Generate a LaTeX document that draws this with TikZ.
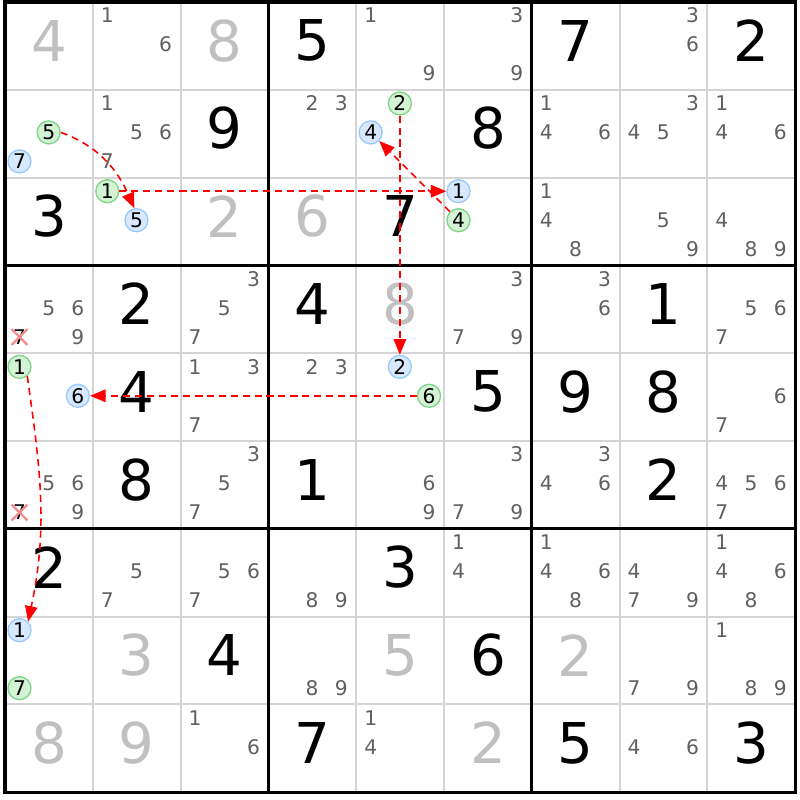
\documentclass[tikz,border=0pt]{standalone}
\usepackage{fontspec}
\setmainfont{DejaVu Sans}
\usetikzlibrary{arrows.meta}
\definecolor{candgray}{HTML}{606060}
\definecolor{solvedgray}{HTML}{C0C0C0}
\definecolor{gridgray}{HTML}{D4D4D4}
\definecolor{ongreen}{HTML}{7FD38A}
\definecolor{ongreenfill}{HTML}{D4F2D4}
\definecolor{offblue}{HTML}{99C8FF}
\definecolor{offbluefill}{HTML}{D8E9FF}
\definecolor{crosspink}{HTML}{F08C8C}
\definecolor{linkred}{HTML}{FF0000}
% small candidates of one cell: column, row, digits
\newcommand\cands[3]{%
  \foreach \d in {#3}{%
    \pgfmathsetmacro\cx{#1-1+0.165+0.3325*mod(\d-1,3)}
    \pgfmathsetmacro\cy{-(#2-1)-0.155-0.33*floor((\d-1)/3)}
    \node[cand] at (\cx,\cy) {\d};
  }}
% one marked candidate: style, name, column, row, digit
\newcommand\hl[5]{%
  \pgfmathsetmacro\cx{#3-1+0.165+0.3325*mod(#5-1,3)}
  \pgfmathsetmacro\cy{-(#4-1)-0.155-0.33*floor((#5-1)/3)}
  \node[#1] (#2) at (\cx,\cy) {#5};}
% eliminated candidate: column, row, digit
\newcommand\elim[3]{%
  \pgfmathsetmacro\cx{#1-1+0.165+0.3325*mod(#3-1,3)}
  \pgfmathsetmacro\cy{-(#2-1)-0.155-0.33*floor((#3-1)/3)}
  \node[cand, text=black] at (\cx,\cy) {#3};
  \draw[crossline] ({\cx-0.09},{\cy+0.09}) -- ({\cx+0.09},{\cy-0.09});
  \draw[crossline] ({\cx-0.09},{\cy-0.09}) -- ({\cx+0.09},{\cy+0.09});}

\begin{document}
\begin{tikzpicture}[x=1.756cm, y=1.756cm,
    given/.style={font=\fontsize{32}{32}\selectfont},
    solved/.style={given, text=solvedgray},
    cand/.style={font=\fontsize{11.5}{12}\selectfont, text=candgray, inner sep=0pt},
    oncand/.style={cand, text=black, circle, draw=ongreen, fill=ongreenfill, line width=0.75pt, minimum size=0.46cm},
    offcand/.style={oncand, draw=offblue, fill=offbluefill},
    crossline/.style={crosspink, line width=1.3pt},
    chain/.style={draw=linkred, line width=0.9pt, dash pattern=on 4pt off 2.8pt,
      -{Triangle[length=0.31cm, width=0.25cm, fill=linkred]}},
    thinline/.style={gridgray, line width=1.1pt},
    boxline/.style={black, line width=1.8pt}]
  \useasboundingbox (-0.057,0.023) rectangle (9.055,-9.089);
  % grid
  \foreach \i in {1,2,4,5,7,8}{
    \draw[thinline] (\i,0) -- (\i,-9);
    \draw[thinline] (0,-\i) -- (9,-\i);
  }
  \foreach \i in {3,6}{
    \draw[boxline] (\i,0) -- (\i,-9);
    \draw[boxline] (0,-\i) -- (9,-\i);
  }
  \draw[boxline] (0,0) rectangle (9,-9);
  % givens
  \foreach \c/\r/\v in {4/1/5, 7/1/7, 9/1/2, 3/2/9, 6/2/8, 1/3/3, 5/3/7,
      2/4/2, 4/4/4, 8/4/1, 2/5/4, 6/5/5, 7/5/9, 8/5/8, 2/6/8, 4/6/1, 8/6/2,
      1/7/2, 5/7/3, 3/8/4, 6/8/6, 4/9/7, 7/9/5, 9/9/3}
    \node[given] at ({\c-0.5},{0.56-\r}) {\v};
  % solved cells
  \foreach \c/\r/\v in {1/1/4, 3/1/8, 3/3/2, 4/3/6, 5/4/8, 2/8/3, 5/8/5,
      7/8/2, 1/9/8, 2/9/9, 6/9/2}
    \node[solved] at ({\c-0.5},{0.56-\r}) {\v};
  % candidates
  \cands{2}{1}{1,6} \cands{5}{1}{1,9} \cands{6}{1}{3,9} \cands{8}{1}{3,6}
  \cands{2}{2}{1,5,6,7} \cands{4}{2}{2,3} \cands{7}{2}{1,4,6}
  \cands{8}{2}{3,4,5} \cands{9}{2}{1,4,6}
  \cands{7}{3}{1,4,8} \cands{8}{3}{5,9} \cands{9}{3}{4,8,9}
  \cands{1}{4}{5,6,9} \cands{3}{4}{3,5,7} \cands{6}{4}{3,7,9}
  \cands{7}{4}{3,6} \cands{9}{4}{5,6,7}
  \cands{3}{5}{1,3,7} \cands{4}{5}{2,3} \cands{9}{5}{6,7}
  \cands{1}{6}{5,6,9} \cands{3}{6}{3,5,7} \cands{5}{6}{6,9}
  \cands{6}{6}{3,7,9} \cands{7}{6}{3,4,6} \cands{9}{6}{4,5,6,7}
  \cands{2}{7}{5,7} \cands{3}{7}{5,6,7} \cands{4}{7}{8,9} \cands{6}{7}{1,4}
  \cands{7}{7}{1,4,6,8} \cands{8}{7}{4,7,9} \cands{9}{7}{1,4,6,8}
  \cands{4}{8}{8,9} \cands{8}{8}{7,9} \cands{9}{8}{1,8,9}
  \cands{3}{9}{1,6} \cands{5}{9}{1,4} \cands{8}{9}{4,6}
  % eliminations
  \elim{1}{4}{7} \elim{1}{6}{7}
  % chain candidates
  \hl{oncand}{r2c1on}{1}{2}{5}   \hl{offcand}{r2c1off}{1}{2}{7}
  \hl{oncand}{r3c2on}{2}{3}{1}   \hl{offcand}{r3c2off}{2}{3}{5}
  \hl{oncand}{r3c6on}{6}{3}{4}   \hl{offcand}{r3c6off}{6}{3}{1}
  \hl{oncand}{r2c5on}{5}{2}{2}   \hl{offcand}{r2c5off}{5}{2}{4}
  \hl{oncand}{r5c5on}{5}{5}{6}   \hl{offcand}{r5c5off}{5}{5}{2}
  \hl{oncand}{r5c1on}{1}{5}{1}   \hl{offcand}{r5c1off}{1}{5}{6}
  \hl{oncand}{r8c1on}{1}{8}{7}   \hl{offcand}{r8c1off}{1}{8}{1}
  % chain links
  \draw[chain] (r2c1on.east) to[out=-20, in=114] (r3c2off.100);
  \draw[chain] (r3c2on.east) to[out=0, in=180] (r3c6off.west);
  \draw[chain] (r3c6on) -- (r2c5off);
  \draw[chain] (r2c5on.south) to[out=-90, in=90] (r5c5off.north);
  \draw[chain] (r5c5on.west) to[out=180, in=0] (r5c1off.east);
  \draw[chain] (r5c1on.-50) to[out=-82, in=78] (r8c1off.45);
\end{tikzpicture}
\end{document}
